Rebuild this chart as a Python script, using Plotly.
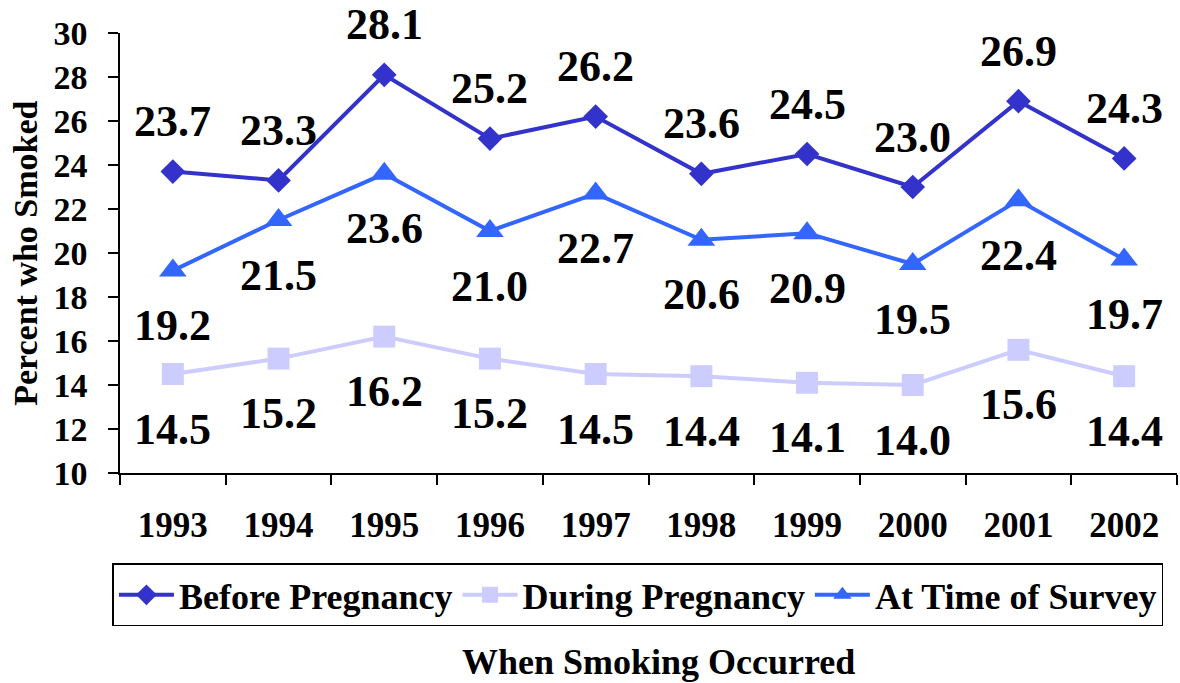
import plotly.graph_objects as go

years = ["1993", "1994", "1995", "1996", "1997", "1998", "1999", "2000", "2001", "2002"]
before_preg = [23.7, 23.3, 28.1, 25.2, 26.2, 23.6, 24.5, 23.0, 26.9, 24.3]
during_preg = [14.5, 15.2, 16.2, 15.2, 14.5, 14.4, 14.1, 14.0, 15.6, 14.4]
at_survey = [19.2, 21.5, 23.6, 21.0, 22.7, 20.6, 20.9, 19.5, 22.4, 19.7]

FONT = "Liberation Serif"

series = [
    ("Before Pregnancy", before_preg, "#3333CC", "diamond", 19, 50),
    ("During Pregnancy", during_preg, "#CCCCFF", "square", 22, -55),
    ("At Time of Survey", at_survey, "#3366FF", "triangle-up", 24, -55),
]

fig = go.Figure()

for name, vals, color, symbol, msize, shift in series:
    fig.add_trace(go.Scatter(
        x=years, y=vals, name=name, mode="lines+markers",
        line=dict(color=color, width=4),
        marker=dict(symbol=symbol, size=msize, color=color),
        cliponaxis=False,
    ))
    # value labels (x given as category index)
    for i, v in enumerate(vals):
        fig.add_annotation(
            x=i, y=v, text=f"{v:.1f}", showarrow=False, yshift=shift,
            font=dict(family=FONT, size=44, color="black", weight="bold"),
        )

# axis titles
fig.add_annotation(
    xref="paper", yref="paper", x=-0.09, y=0.5, text="Percent who Smoked",
    textangle=-90, showarrow=False, xanchor="center", yanchor="middle",
    font=dict(family=FONT, size=34, color="black", weight="bold"),
)
fig.add_annotation(
    xref="paper", yref="paper", x=0.509, y=-0.43, text="When Smoking Occurred",
    showarrow=False, xanchor="center", yanchor="middle",
    font=dict(family=FONT, size=36, color="black", weight="bold"),
)

fig.update_xaxes(
    type="category", range=[-0.5, 9.5], showline=True, linecolor="black", linewidth=1.5,
    ticks="outside", tickson="boundaries", ticklen=10, tickcolor="black", tickwidth=1.5,
    showgrid=False, ticklabelstandoff=20, automargin=False,
    tickfont=dict(family=FONT, size=35, color="black", weight="bold"),
)
fig.update_yaxes(
    range=[10, 30], dtick=2, showline=True, linecolor="black", linewidth=1.5,
    ticks="outside", ticklen=10, tickcolor="black", tickwidth=1.5,
    showgrid=False, zeroline=False, ticklabelstandoff=14, automargin=False,
    tickfont=dict(family=FONT, size=34, color="black", weight="bold"),
)

fig.update_layout(
    width=1180, height=683,
    margin=dict(l=120, r=3, t=33, b=210, autoexpand=False),
    plot_bgcolor="white", paper_bgcolor="white",
    legend=dict(
        orientation="h", x=0.49, y=-0.277, xanchor="center", yanchor="middle",
        bordercolor="black", borderwidth=1.5, bgcolor="white",
        font=dict(family=FONT, size=36, color="black", weight="bold"),
        itemwidth=55,
    ),
)

# drop the page's default body margin so the figure fills the window
fig.write_html("out.html", config={"displayModeBar": False},
               post_script="document.body.style.margin='0';")
